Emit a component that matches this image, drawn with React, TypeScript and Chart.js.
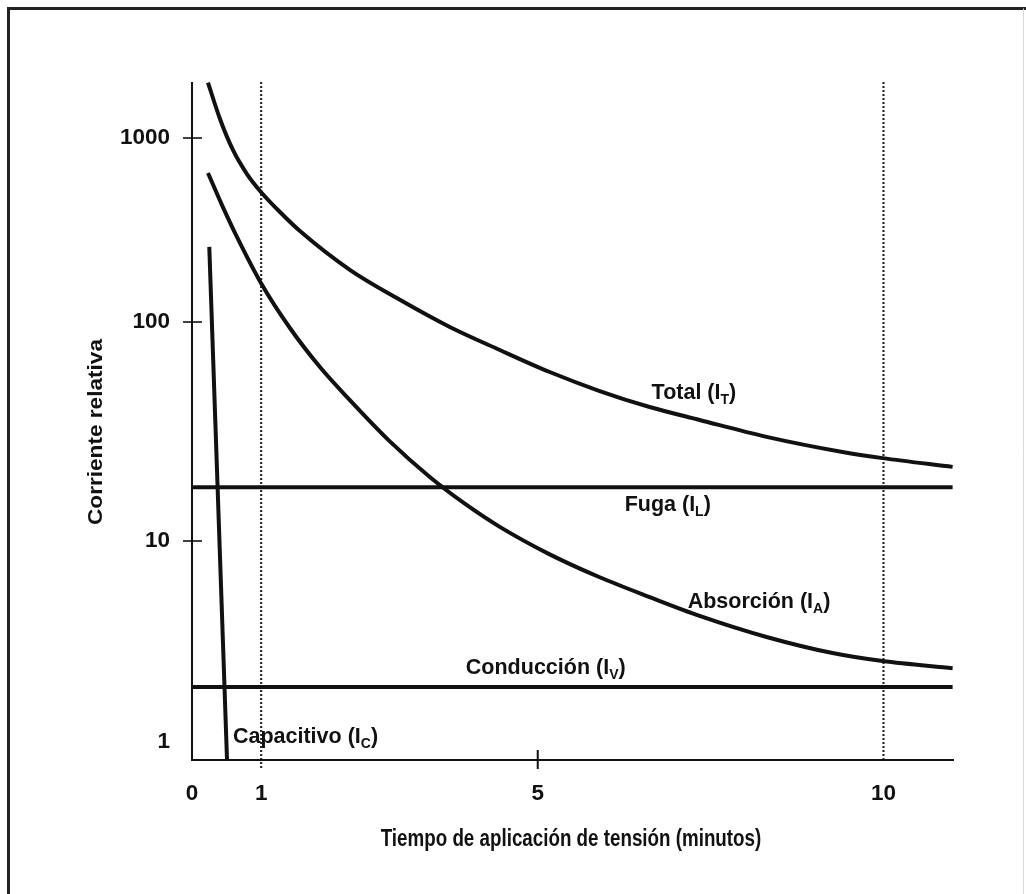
import React, { useEffect, useRef } from 'react';
import { Chart, registerables, LogarithmicScale } from 'chart.js';

// ---- data ----
const timeTicks = [0, 1, 5, 10];
const currentTicks = [1, 10, 100, 1000];
const currentTickLabels = ['1', '10', '100', '1000'];
const referenceTimes = [1, 10];
const crossTickCurrents = [10, 100, 1000];
const crossTickTimes = [5];

const totalTime = [0.231, 0.405, 0.592, 0.795, 0.997, 1.272, 1.561, 2.283, 3.006, 3.728, 4.451, 5.173, 5.896, 6.618, 7.341, 8.309, 9.408, 9.986, 11.0];
const totalCurrent = [2000, 1269, 861, 637, 509, 396, 312, 192, 132, 94.9, 74.5, 59.1, 48.4, 40.9, 35.7, 29.9, 25.5, 23.9, 21.8];

const absorptionTime = [0.231, 0.434, 0.65, 0.997, 1.416, 1.85, 2.283, 2.861, 3.439, 3.945, 4.451, 5.173, 5.896, 6.618, 7.341, 8.309, 9.263, 9.986, 11.0];
const absorptionCurrent = [645, 432, 290, 163, 93.9, 62.3, 44.0, 28.5, 19.6, 14.8, 11.6, 8.58, 6.6, 5.26, 4.24, 3.33, 2.77, 2.53, 2.33];

const leakageTime = [0, 11];
const leakageCurrent = [17.6, 17.6];

const conductionTime = [0, 11];
const conductionCurrent = [1.88, 1.88];

const capacitiveTime = [0.25, 0.506];
const capacitiveCurrent = [256, 0.823];

const curveLabels = [
  { main: 'Total (I', sub: 'T', t: 6.647, i: 47.4 },
  { main: 'Fuga (I', sub: 'L', t: 6.257, i: 14.6 },
  { main: 'Absorción (I', sub: 'A', t: 7.168, i: 4.97 },
  { main: 'Conducción (I', sub: 'V', t: 3.96, i: 2.33 },
  { main: 'Capacitivo (I', sub: 'C', t: 0.592, i: 1.059 },
];

const xTitle = 'Tiempo de aplicación de tensión (minutos)';
const yTitle = 'Corriente relativa';

// ---- scale shape (the printed axis is a hand-drawn, uneven log axis) ----
const WARP_LOG = [-0.0896, 0, 1, 2, 3, 3.3043];
const WARP_DEC = [0, 0.02655, 0.32301, 0.64602, 0.9174, 1];

function interp(v: number, xs: number[], ys: number[]) {
  let i = 0;
  if (v <= xs[0]) i = 0;
  else if (v >= xs[xs.length - 1]) i = xs.length - 2;
  else { while (i < xs.length - 2 && v > xs[i + 1]) i++; }
  const f = (v - xs[i]) / (xs[i + 1] - xs[i]);
  return ys[i] + f * (ys[i + 1] - ys[i]);
}

class WarpedLogScale extends LogarithmicScale {
  static id = 'warpedLog';
  static defaults = LogarithmicScale.defaults;
  getPixelForValue(value: any) {
    if (value === null || value === undefined || isNaN(value)) return NaN;
    const v = value > 0 ? value : (this as any).min;
    return this.getPixelForDecimal(interp(Math.log10(v), WARP_LOG, WARP_DEC));
  }
  getValueForPixel(pixel: number) {
    return Math.pow(10, interp(this.getDecimalForPixel(pixel), WARP_DEC, WARP_LOG));
  }
}

Chart.register(...registerables, WarpedLogScale);

const FONT = '"Liberation Sans", Arial, sans-serif';
const INK = '#111';

const pts = (xs: number[], ys: number[]) => xs.map((x, k) => ({ x, y: ys[k] }));

const decorations = {
  id: 'decorations',
  beforeDatasetsDraw(chart: any) {
    const { ctx, chartArea, scales } = chart;
    const x = scales.x;
    ctx.save();
    ctx.strokeStyle = '#2a2a2a';
    ctx.lineWidth = 2.2;
    ctx.setLineDash([2, 2]);
    referenceTimes.forEach((t, k) => {
      const px = x.getPixelForValue(t);
      ctx.beginPath();
      ctx.moveTo(px, chartArea.top);
      ctx.lineTo(px, chartArea.bottom + (k === 0 ? 9 : 0));
      ctx.stroke();
    });
    ctx.restore();
  },
  afterDatasetsDraw(chart: any) {
    const { ctx, chartArea, scales } = chart;
    const x = scales.x;
    const y = scales.y;
    ctx.save();
    // axes
    ctx.strokeStyle = INK;
    ctx.lineWidth = 2;
    ctx.beginPath();
    ctx.moveTo(chartArea.left, chartArea.top);
    ctx.lineTo(chartArea.left, chartArea.bottom);
    ctx.lineTo(chartArea.right, chartArea.bottom);
    ctx.stroke();
    // cross ticks
    ctx.lineWidth = 1.6;
    crossTickCurrents.forEach((v) => {
      const py = y.getPixelForValue(v);
      ctx.beginPath();
      ctx.moveTo(chartArea.left - 9, py);
      ctx.lineTo(chartArea.left + 10, py);
      ctx.stroke();
    });
    ctx.lineWidth = 2;
    crossTickTimes.forEach((t) => {
      const px = x.getPixelForValue(t);
      ctx.beginPath();
      ctx.moveTo(px, chartArea.bottom - 10);
      ctx.lineTo(px, chartArea.bottom + 9);
      ctx.stroke();
    });
    // frame
    ctx.strokeStyle = '#222';
    ctx.lineWidth = 3;
    ctx.beginPath();
    ctx.moveTo(8.5, chart.height);
    ctx.lineTo(8.5, 8.5);
    ctx.lineTo(chart.width, 8.5);
    ctx.stroke();
    ctx.strokeStyle = '#d8d8d8';
    ctx.lineWidth = 1;
    ctx.beginPath();
    ctx.moveTo(chart.width - 2.5, 8.5);
    ctx.lineTo(chart.width - 2.5, chart.height);
    ctx.stroke();
    // titles
    ctx.fillStyle = INK;
    ctx.textAlign = 'center';
    ctx.textBaseline = 'middle';
    ctx.save();
    ctx.translate((chartArea.left + chartArea.right) / 2 - 2, chartArea.bottom + 79);
    ctx.scale(1, 1.28);
    ctx.font = `bold 18.8px ${FONT}`;
    ctx.fillText(xTitle, 0, 0);
    ctx.restore();
    ctx.save();
    ctx.translate(96, 432);
    ctx.rotate(-Math.PI / 2);
    ctx.scale(1.13, 1);
    ctx.font = `bold 20px ${FONT}`;
    ctx.fillText(yTitle, 0, 0);
    ctx.restore();
    // curve labels
    ctx.textAlign = 'left';
    curveLabels.forEach((l) => {
      let px = x.getPixelForValue(l.t);
      const py = y.getPixelForValue(l.i);
      ctx.font = `bold 21.5px ${FONT}`;
      ctx.fillText(l.main, px, py);
      px += ctx.measureText(l.main).width;
      ctx.font = `bold 14px ${FONT}`;
      ctx.fillText(l.sub, px, py + 7);
      px += ctx.measureText(l.sub).width;
      ctx.font = `bold 21.5px ${FONT}`;
      ctx.fillText(')', px, py);
    });
    ctx.restore();
  },
};

export default function App() {
  const ref = useRef<HTMLCanvasElement | null>(null);
  useEffect(() => {
    if (!ref.current) return;
    const lineStyle = {
      borderColor: INK,
      borderWidth: 4,
      pointRadius: 0,
      fill: false,
      cubicInterpolationMode: 'monotone' as const,
    };
    const chart = new Chart(ref.current, {
      type: 'line',
      data: {
        datasets: [
          { label: 'Total', data: pts(totalTime, totalCurrent), ...lineStyle },
          { label: 'Absorción', data: pts(absorptionTime, absorptionCurrent), ...lineStyle },
          { label: 'Fuga', data: pts(leakageTime, leakageCurrent), ...lineStyle },
          { label: 'Conducción', data: pts(conductionTime, conductionCurrent), ...lineStyle },
          { label: 'Capacitivo', data: pts(capacitiveTime, capacitiveCurrent), ...lineStyle },
        ],
      },
      options: {
        responsive: false,
        animation: false,
        layout: { padding: { left: 0, top: 82, right: 72, bottom: 0 } },
        plugins: { legend: { display: false }, tooltip: { enabled: false } },
        scales: {
          x: {
            type: 'linear',
            min: 0,
            max: 11.02,
            grid: { display: false, drawTicks: false },
            border: { display: false },
            afterFit: (s: any) => { s.height = 134; },
            afterBuildTicks: (s: any) => { s.ticks = timeTicks.map((v) => ({ value: v })); },
            ticks: {
              padding: 20,
              color: INK,
              font: { family: FONT, size: 22.5, weight: 'bold' },
              callback: (v: any) => String(v),
            },
          },
          y: {
            type: 'warpedLog' as any,
            min: Math.pow(10, WARP_LOG[0]),
            max: Math.pow(10, WARP_LOG[WARP_LOG.length - 1]),
            grid: { display: false, drawTicks: false },
            border: { display: false },
            afterFit: (s: any) => { s.width = 192; },
            afterBuildTicks: (s: any) => { s.ticks = currentTicks.map((v) => ({ value: v })); },
            ticks: {
              padding: 22,
              color: INK,
              font: { family: FONT, size: 22.5, weight: 'bold' },
              callback: (v: any) => {
                const k = currentTicks.indexOf(Number(v));
                return k >= 0 ? currentTickLabels[k] : '';
              },
            },
          },
        },
      } as any,
      plugins: [decorations],
    });
    return () => chart.destroy();
  }, []);
  return (
    <div style={{ position: 'absolute', left: 0, top: 0, width: 1026, height: 894, background: '#fff' }}>
      <canvas ref={ref} width={1026} height={894} style={{ display: 'block' }} />
    </div>
  );
}
